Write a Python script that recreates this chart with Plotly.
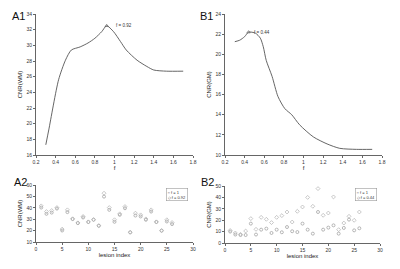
import plotly.graph_objects as go

# ---- data ----
f_a1 = [0.30, 0.33, 0.43, 0.50, 0.56, 0.65, 0.73, 0.80, 0.87, 0.92, 0.99, 1.06, 1.12, 1.23, 1.33, 1.40, 1.53, 1.70]
cnr_wm = [17.3, 19.2, 25.6, 28.1, 29.4, 29.8, 30.3, 30.9, 31.75, 32.5, 31.75, 30.5, 29.4, 28.1, 27.3, 26.85, 26.7, 26.7]

f_b1 = [0.30, 0.35, 0.40, 0.44, 0.51, 0.56, 0.59, 0.62, 0.68, 0.74, 0.81, 0.88, 0.96, 1.10, 1.24, 1.37, 1.54, 1.70]
cnr_gm = [21.25, 21.4, 21.75, 22.2, 22.1, 21.6, 20.75, 19.4, 17.8, 15.8, 14.6, 14.0, 13.0, 11.8, 11.1, 10.66, 10.56, 10.56]

lesion_idx = list(range(1, 27))
wm_f1 = [40.2, 34.7, 35.8, 39.3, 20.1, 36.2, 30.1, 26.6, 31.5, 27.5, 29.5, 24.2, 49.8, 38.2, 27.7, 33.8, 39.6, 18.4, 33.2, 32.4, 29.5, 36.7, 27.5, 19.9, 28.0, 25.7]
wm_f092 = [41.7, 36.7, 37.6, 40.2, 21.3, 38.2, 30.4, 26.8, 32.4, 27.7, 29.7, 24.4, 52.8, 40.2, 29.5, 34.7, 41.1, 18.6, 35.3, 33.8, 30.3, 38.2, 27.7, 20.1, 29.5, 27.1]
gm_f1 = [10.0, 7.4, 7.0, 7.0, 17.0, 7.4, 11.7, 12.6, 8.8, 11.7, 9.4, 14.0, 10.3, 9.6, 17.0, 11.7, 8.2, 27.2, 11.7, 13.5, 15.5, 8.2, 13.2, 20.5, 11.1, 12.9]
gm_f044 = [11.0, 8.8, 7.6, 10.5, 21.4, 12.0, 22.5, 20.8, 17.9, 22.5, 24.0, 27.2, 18.4, 27.8, 31.6, 40.0, 32.2, 47.7, 24.3, 26.3, 40.4, 11.7, 17.5, 23.4, 19.9, 27.2]

a1_xticks = [0.2, 0.4, 0.6, 0.8, 1.0, 1.2, 1.4, 1.6, 1.8]
a1_xticktext = ["0.2", "0.4", "0.6", "0.8", "1", "1.2", "1.4", "1.6", "1.8"]
peak_a1 = (0.92, 32.5, "f = 0.92")
peak_b1 = (0.44, 22.2, "f = 0.44")

LINE = "#555555"
MK = "#9a9a9a"
TICKF = dict(family="Liberation Sans, Arial, sans-serif", size=5, color="#333333")
TITLEF = dict(family="Liberation Sans, Arial, sans-serif", size=6, color="#222222")

fig = go.Figure()

fig.add_trace(go.Scatter(x=f_a1, y=cnr_wm, mode="lines", line=dict(color=LINE, width=0.9, shape="spline", smoothing=0.7),
                         xaxis="x", yaxis="y", showlegend=False))
fig.add_trace(go.Scatter(x=[peak_a1[0]], y=[peak_a1[1]], mode="markers",
                         marker=dict(symbol="triangle-up-open", size=3, color=LINE, line=dict(width=0.6)),
                         xaxis="x", yaxis="y", showlegend=False))
fig.add_trace(go.Scatter(x=f_b1, y=cnr_gm, mode="lines", line=dict(color=LINE, width=0.9, shape="spline", smoothing=0.7),
                         xaxis="x2", yaxis="y2", showlegend=False))
fig.add_trace(go.Scatter(x=[peak_b1[0]], y=[peak_b1[1]], mode="markers",
                         marker=dict(symbol="triangle-up-open", size=3, color=LINE, line=dict(width=0.6)),
                         xaxis="x2", yaxis="y2", showlegend=False))

fig.add_trace(go.Scatter(x=lesion_idx, y=wm_f1, mode="markers", name="f = 1",
                         marker=dict(symbol="circle-open", size=3, color=MK, line=dict(width=0.7)),
                         xaxis="x3", yaxis="y3", showlegend=False))
fig.add_trace(go.Scatter(x=lesion_idx, y=wm_f092, mode="markers", name="f = 0.92",
                         marker=dict(symbol="diamond-open", size=3, color="#b0b0b0", line=dict(width=0.7)),
                         xaxis="x3", yaxis="y3", showlegend=False))
fig.add_trace(go.Scatter(x=lesion_idx, y=gm_f1, mode="markers", name="f = 1",
                         marker=dict(symbol="circle-open", size=3, color=MK, line=dict(width=0.7)),
                         xaxis="x4", yaxis="y4", showlegend=False))
fig.add_trace(go.Scatter(x=lesion_idx, y=gm_f044, mode="markers", name="f = 0.44",
                         marker=dict(symbol="diamond-open", size=3, color="#b0b0b0", line=dict(width=0.7)),
                         xaxis="x4", yaxis="y4", showlegend=False))

# page body has an 8px default margin; figure is sized so page stays 400x269
OFF = 8
W, H = 400 - 2 * OFF, 269 - 2 * OFF
def px(x):
    return (x - OFF) / W
def py(y):
    return 1 - (y - OFF) / H
def dx(a, b):
    return [px(a), px(b)]
def dy(top, bottom):
    return [py(bottom), py(top)]

ax_common = dict(showline=True, linecolor="#666666", linewidth=0.8, ticks="outside", ticklen=2,
                 tickcolor="#666666", tickwidth=0.6, tickfont=TICKF, showgrid=False, zeroline=False,
                 mirror=False, title_font=TITLEF, automargin=False)

fig.update_layout(
    width=W, height=H, autosize=False,
    margin=dict(l=0, r=0, t=0, b=0),
    paper_bgcolor="white", plot_bgcolor="white",
    xaxis=dict(domain=dx(36, 193), range=[0.2, 1.8], tickvals=a1_xticks, ticktext=a1_xticktext,
               anchor="y", title=dict(text="f", standoff=1), **ax_common),
    yaxis=dict(domain=dy(14, 155), range=[16, 34], dtick=2, anchor="x",
               title=dict(text="CNR(WM)", standoff=3), **ax_common),
    xaxis2=dict(domain=dx(225, 382), range=[0.2, 1.8], tickvals=a1_xticks, ticktext=a1_xticktext,
                anchor="y2", title=dict(text="f", standoff=1), **ax_common),
    yaxis2=dict(domain=dy(14, 155), range=[10, 24], dtick=2, anchor="x2",
                title=dict(text="CNR(GM)", standoff=3), **ax_common),
    xaxis3=dict(domain=dx(36, 193), range=[0, 30], dtick=5, anchor="y3",
                title=dict(text="lesion index", standoff=1), **ax_common),
    yaxis3=dict(domain=dy(185, 242), range=[10, 60], dtick=10, anchor="x3",
                title=dict(text="CNR(WM)", standoff=3), **ax_common),
    xaxis4=dict(domain=dx(225, 380), range=[0, 30], dtick=5, anchor="y4",
                title=dict(text="lesion index", standoff=1), **ax_common),
    yaxis4=dict(domain=dy(186, 243), range=[0, 50], dtick=10, anchor="x4",
                title=dict(text="CNR(GM)", standoff=3), **ax_common),
)

PF = dict(family="Liberation Sans, Arial, sans-serif", size=11, color="#111111")
for txt, x, y in [("A1", 10, 16), ("B1", 198, 16), ("A2", 12, 182), ("B2", 199, 182)]:
    fig.add_annotation(text=txt, x=px(x), y=py(y), xref="paper", yref="paper",
                       xanchor="left", yanchor="middle", showarrow=False, font=PF)

SF = dict(family="Liberation Sans, Arial, sans-serif", size=4.5, color="#333333")
fig.add_annotation(text=peak_a1[2], x=peak_a1[0], y=peak_a1[1], xref="x", yref="y",
                   xanchor="left", yanchor="middle", xshift=7, showarrow=False, font=SF)
fig.add_annotation(text=peak_b1[2], x=peak_b1[0], y=peak_b1[1], xref="x2", yref="y2",
                   xanchor="left", yanchor="middle", xshift=3, showarrow=False, font=SF)

LF = dict(family="Liberation Sans, Arial, sans-serif", size=4, color="#333333")
fig.add_annotation(text="○ f = 1<br>◇ f = 0.92", x=px(166), y=py(188), xref="paper", yref="paper",
                   xanchor="left", yanchor="top", showarrow=False, font=LF, align="left",
                   bordercolor="#999999", borderwidth=0.6, borderpad=1, bgcolor="white")
fig.add_annotation(text="○ f = 1<br>◇ f = 0.44", x=px(355), y=py(188), xref="paper", yref="paper",
                   xanchor="left", yanchor="top", showarrow=False, font=LF, align="left",
                   bordercolor="#999999", borderwidth=0.6, borderpad=1, bgcolor="white")

fig.write_html("out.html")
